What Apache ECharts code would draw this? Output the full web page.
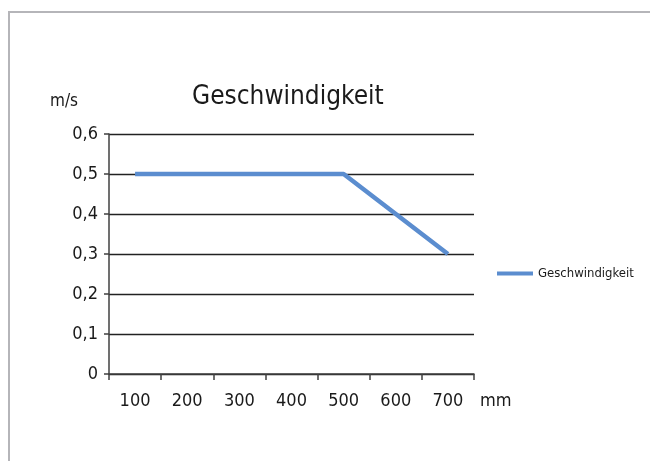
<!DOCTYPE html>
<html>
<head>
<meta charset="utf-8">
<script src="https://cdn.jsdelivr.net/npm/echarts@6/dist/echarts.min.js"></script>
<style>
  html, body { margin: 0; padding: 0; background: #fff; }
  #frame { position: absolute; left: 8px; top: 11px; width: 660px; height: 470px; border: 2px solid #b5b5b9; }
  #chart { position: absolute; left: 0; top: 0; width: 650px; height: 461px; }
</style>
</head>
<body>
<div id="frame"></div>
<div id="chart"></div>
<script>
// Daten
const categories = ['100', '200', '300', '400', '500', '600', '700'];
const speed = [0.5, 0.5, 0.5, 0.5, 0.5, 0.4, 0.3];
const seriesName = 'Geschwindigkeit';

const font = '"DejaVu Sans Condensed", "DejaVu Sans", sans-serif';

const myChart = echarts.init(document.getElementById('chart'));
const option = {
  animation: false,
  textStyle: { fontFamily: font },
  title: {
    text: 'Geschwindigkeit',
    left: 192, top: 84,
    padding: 0,
    textStyle: { fontFamily: font, fontSize: 26, fontWeight: 'normal', color: '#1a1a1a' }
  },
  legend: {
    data: [seriesName],
    left: 497, top: 267,
    padding: 0,
    itemWidth: 36, itemHeight: 4, itemGap: 6,
    icon: 'rect',
    textStyle: { fontFamily: font, fontSize: 13, color: '#1a1a1a' }
  },
  grid: { left: 109, right: 176, top: 134, bottom: 87 },
  xAxis: {
    type: 'category',
    data: categories,
    boundaryGap: true,
    name: 'mm',
    nameLocation: 'end',
    nameGap: 6,
    nameTextStyle: { fontFamily: font, fontSize: 18, color: '#1a1a1a', verticalAlign: 'top', padding: [18, 0, 0, 0] },
    axisLine: { lineStyle: { color: '#404040', width: 1.5 } },
    axisTick: { show: true, length: 6, alignWithLabel: false, lineStyle: { color: '#404040', width: 1.5 } },
    axisLabel: { fontFamily: font, fontSize: 18, color: '#1a1a1a', margin: 18 }
  },
  yAxis: {
    type: 'value',
    min: 0, max: 0.6, interval: 0.1,
    name: 'm/s',
    nameLocation: 'end',
    nameGap: 24,
    nameTextStyle: { fontFamily: font, fontSize: 17, color: '#1a1a1a', align: 'right', padding: [0, 31, 0, 0] },
    axisLine: { show: true, lineStyle: { color: '#404040', width: 1.5 } },
    axisTick: { show: true, length: 5, lineStyle: { color: '#404040', width: 1.5 } },
    axisLabel: {
      fontFamily: font, fontSize: 18, color: '#1a1a1a', margin: 11,
      formatter: v => String(Math.round(v * 10) / 10).replace('.', ',')
    },
    splitLine: { lineStyle: { color: '#222', width: 1.3 } }
  },
  series: [
    {
      name: seriesName,
      type: 'line',
      data: speed,
      showSymbol: false,
      symbol: 'none',
      lineStyle: { color: '#5b8dcf', width: 4.5 },
      itemStyle: { color: '#5b8dcf' }
    }
  ]
};
myChart.setOption(option);
</script>
</body>
</html>
